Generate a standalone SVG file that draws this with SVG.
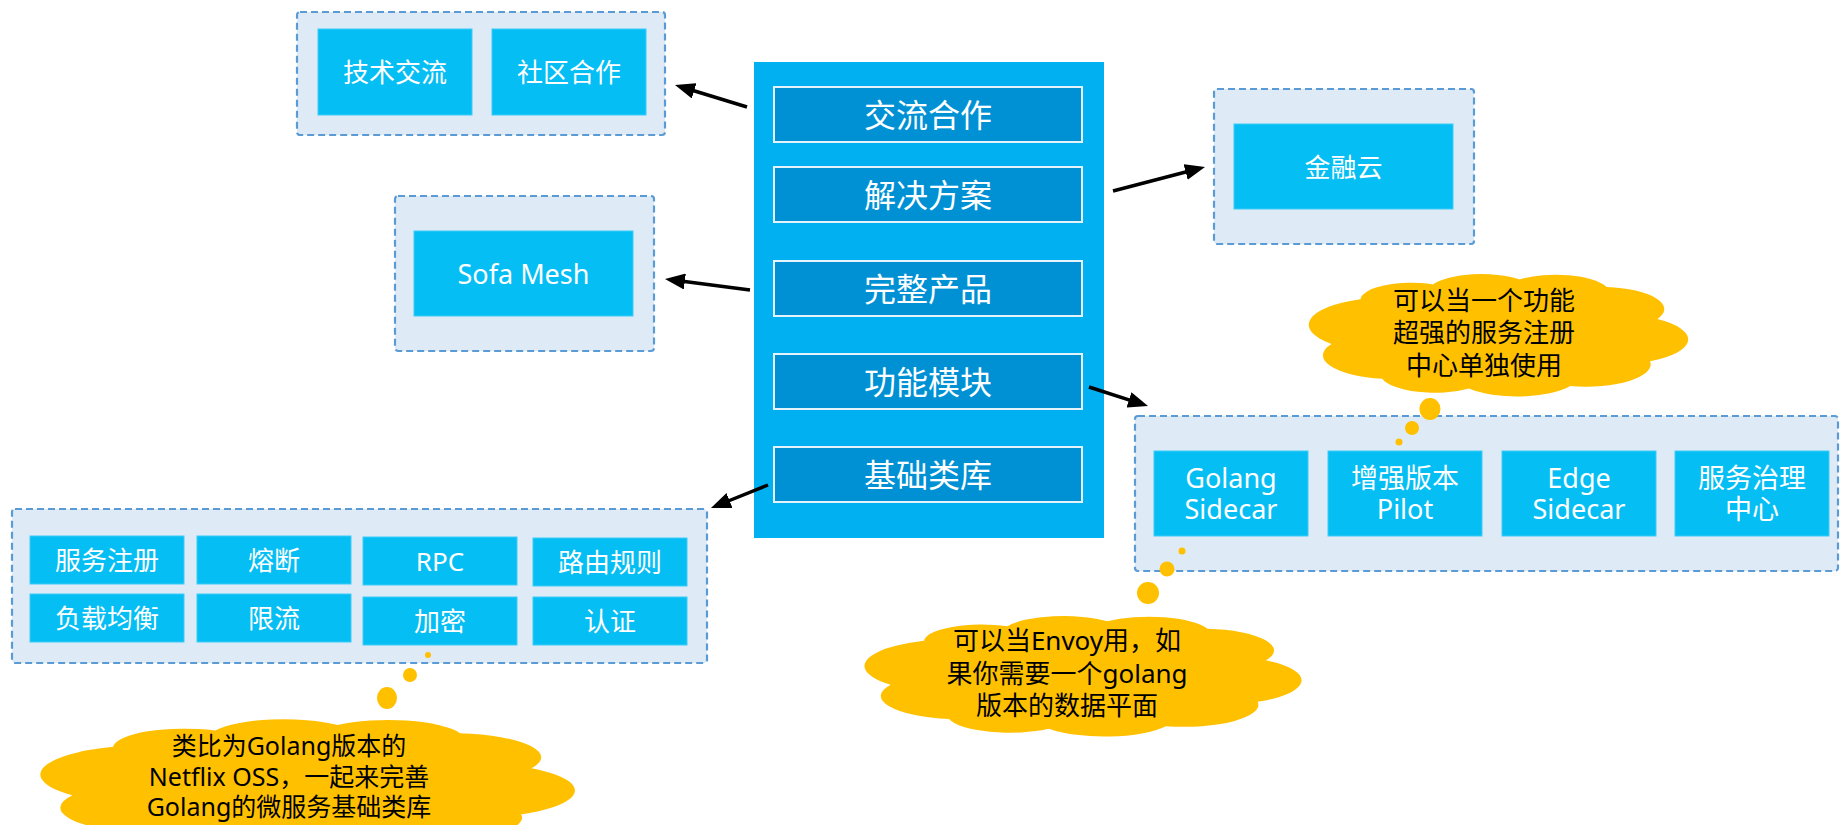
<svg xmlns="http://www.w3.org/2000/svg" xmlns:xlink="http://www.w3.org/1999/xlink" width="1841" height="825" viewBox="0 0 1841 825">
<style>
text{font-family:'Noto Sans','Noto Sans CJK SC',sans-serif;text-anchor:middle;dominant-baseline:central}
.grp{fill:#DEEBF7;stroke:#5B9BD5;stroke-width:2.2;stroke-dasharray:7 4}
.leaf{fill:#05BEF4;stroke:#3CCBF6;stroke-width:1}
.lt{fill:#fff;font-size:26px}
.lt2{fill:#fff;font-size:27px}
.panel{fill:#00B0F0}
.mod{fill:#0091D5;stroke:#E4F3FC;stroke-width:2}
.mt{fill:#fff;font-size:32px}
.cloud{fill:#FFC000}
.ct{fill:#000;font-size:26px}
.ct2{fill:#000;font-size:25px}
.conn{stroke:#000;stroke-width:3.5;fill:none;marker-end:url(#ah)}
</style>
<defs>
<marker id="ah" markerUnits="userSpaceOnUse" markerWidth="20" markerHeight="16" refX="8" refY="8" orient="auto">
<path d="M0,0 L20,8 L0,16 z" fill="#000"/>
</marker>
<path id="cloudshape" d="M4,58 A22,22 0 0 1 12,22 A14,14 0 0 1 32,10 A15,15 0 0 1 56,6 A15,15 0 0 1 80,12 A18,18 0 0 1 94,38 A20,20 0 0 1 92,72 A18,18 0 0 1 70,92 A17,17 0 0 1 42,94 A15,15 0 0 1 18,86 A19,19 0 0 1 4,58 Z"/>
</defs>
<rect width="1841" height="825" fill="#fff"/>

<g id="main-panel">
<rect class="panel" x="754" y="62" width="350" height="476"/>
<g id="m-jiaoliu"><rect class="mod" x="774" y="87" width="308" height="55"/><text class="mt" x="928" y="114.5">交流合作</text></g>
<g id="m-jiejue"><rect class="mod" x="774" y="167" width="308" height="55"/><text class="mt" x="928" y="194.5">解决方案</text></g>
<g id="m-wanzheng"><rect class="mod" x="774" y="261" width="308" height="55"/><text class="mt" x="928" y="288.5">完整产品</text></g>
<g id="m-gongneng"><rect class="mod" x="774" y="354" width="308" height="55"/><text class="mt" x="928" y="381.5">功能模块</text></g>
<g id="m-jichu"><rect class="mod" x="774" y="447" width="308" height="55"/><text class="mt" x="928" y="474.5">基础类库</text></g>
</g>

<g id="grp-community">
<rect class="grp" x="297" y="12" width="368" height="123" rx="3"/>
<g id="n-jishu"><rect class="leaf" x="318" y="29" width="154" height="86"/><text class="lt" x="395" y="72">技术交流</text></g>
<g id="n-shequ"><rect class="leaf" x="492" y="29" width="154" height="86"/><text class="lt" x="569" y="72">社区合作</text></g>
</g>

<g id="grp-sofa">
<rect class="grp" x="395" y="196" width="259" height="155" rx="3"/>
<g id="n-sofa"><rect class="leaf" x="414" y="231" width="219" height="85"/><text class="lt2" x="523.5" y="273.5">Sofa Mesh</text></g>
</g>

<g id="grp-fin">
<rect class="grp" x="1214" y="89" width="260" height="155" rx="3"/>
<g id="n-jinrong"><rect class="leaf" x="1234" y="124" width="219" height="85"/><text class="lt" x="1343.5" y="166.5">金融云</text></g>
</g>

<g id="grp-func">
<rect class="grp" x="1135" y="416" width="703" height="155" rx="3"/>
<g id="n-golang"><rect class="leaf" x="1154" y="451" width="154" height="85"/><text class="lt2"><tspan x="1231" y="477">Golang</tspan><tspan x="1231" y="508">Sidecar</tspan></text></g>
<g id="n-pilot"><rect class="leaf" x="1328" y="451" width="154" height="85"/><text class="lt2"><tspan x="1405" y="477">增强版本</tspan><tspan x="1405" y="508">Pilot</tspan></text></g>
<g id="n-edge"><rect class="leaf" x="1502" y="451" width="154" height="85"/><text class="lt2"><tspan x="1579" y="477">Edge</tspan><tspan x="1579" y="508">Sidecar</tspan></text></g>
<g id="n-zhili"><rect class="leaf" x="1675" y="451" width="154" height="85"/><text class="lt2"><tspan x="1752" y="477">服务治理</tspan><tspan x="1752" y="508">中心</tspan></text></g>
</g>

<g id="grp-lib">
<rect class="grp" x="12" y="509" width="695" height="154" rx="3"/>
<g id="n-zhuce"><rect class="leaf" x="30" y="536" width="154" height="48"/><text class="lt" x="107" y="560">服务注册</text></g>
<g id="n-rongduan"><rect class="leaf" x="197" y="536" width="154" height="48"/><text class="lt" x="274" y="560">熔断</text></g>
<g id="n-rpc"><rect class="leaf" x="363" y="537" width="154" height="48"/><text class="lt" x="440" y="561">RPC</text></g>
<g id="n-luyou"><rect class="leaf" x="533" y="538" width="154" height="48"/><text class="lt" x="610" y="562">路由规则</text></g>
<g id="n-fuzai"><rect class="leaf" x="30" y="594" width="154" height="48"/><text class="lt" x="107" y="618">负载均衡</text></g>
<g id="n-xianliu"><rect class="leaf" x="197" y="594" width="154" height="48"/><text class="lt" x="274" y="618">限流</text></g>
<g id="n-jiami"><rect class="leaf" x="363" y="597" width="154" height="48"/><text class="lt" x="440" y="621">加密</text></g>
<g id="n-renzheng"><rect class="leaf" x="533" y="597" width="154" height="48"/><text class="lt" x="610" y="621">认证</text></g>
</g>

<g id="callout-registry">
<use href="#cloudshape" class="cloud" transform="translate(1317,272) scale(3.62,1.24)"/>
<ellipse class="cloud" cx="1430" cy="409" rx="10.5" ry="11"/>
<circle class="cloud" cx="1412" cy="428" r="7"/>
<circle class="cloud" cx="1399" cy="442" r="3.5"/>
<text class="ct"><tspan x="1484" y="300">可以当一个功能</tspan><tspan x="1484" y="332">超强的服务注册</tspan><tspan x="1484" y="365">中心单独使用</tspan></text>
</g>

<g id="callout-envoy">
<use href="#cloudshape" class="cloud" transform="translate(874,614) scale(4.17,1.22)"/>
<circle class="cloud" cx="1148" cy="593" r="11"/>
<circle class="cloud" cx="1167" cy="569" r="7.5"/>
<circle class="cloud" cx="1182" cy="551" r="3.5"/>
<text class="ct"><tspan x="1067" y="640">可以当Envoy用，如</tspan><tspan x="1067" y="673">果你需要一个golang</tspan><tspan x="1067" y="705">版本的数据平面</tspan></text>
</g>

<g id="callout-netflix">
<use href="#cloudshape" class="cloud" transform="translate(52,717) scale(5.1,1.35)"/>
<ellipse class="cloud" cx="387" cy="698" rx="10" ry="11"/>
<circle class="cloud" cx="410" cy="675" r="7"/>
<circle class="cloud" cx="428" cy="655" r="3"/>
<text class="ct2"><tspan x="289" y="745">类比为Golang版本的</tspan><tspan x="289" y="776">Netflix OSS，一起来完善</tspan><tspan x="289" y="806">Golang的微服务基础类库</tspan></text>
</g>

<g id="connectors">
<line class="conn" x1="747" y1="107" x2="686.5" y2="88.5"/>
<line class="conn" x1="1113" y1="191" x2="1193.4" y2="170"/>
<line class="conn" x1="750" y1="290" x2="676.9" y2="280.5"/>
<line class="conn" x1="1089" y1="387" x2="1136.6" y2="402.3"/>
<line class="conn" x1="768" y1="485" x2="722.1" y2="503.5"/>
</g>
</svg>
